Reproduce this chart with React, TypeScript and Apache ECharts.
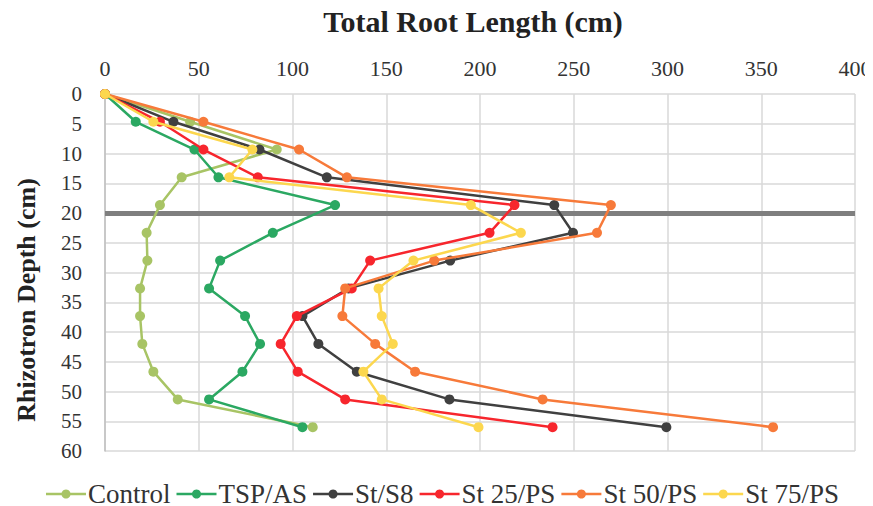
import React, { useEffect, useRef } from "react";
import * as echarts from "echarts";

const depths = [0, 4.67, 9.33, 14, 18.67, 23.33, 28, 32.67, 37.33, 42, 46.67, 51.33, 56];
const seriesNames = ["Control", "TSP/AS", "St/S8", "St 25/PS", "St 50/PS", "St 75/PS"];
const control = [0, 45.4, 91.6, 40.9, 29.3, 22.2, 22.6, 18.7, 18.7, 19.9, 25.8, 38.8, 110.8];
const tspAs = [0, 16.4, 47.7, 60.5, 122.7, 89.5, 61.4, 55.5, 74.7, 82.7, 73.3, 55.5, 105.3];
const stS8 = [0, 36.5, 82.4, 118.3, 239.6, 249.6, 184.1, 129.9, 105.3, 113.8, 134.3, 183.7, 299.4];
const st25 = [0, 29.3, 52.5, 81.5, 218.4, 205.1, 141.4, 131.6, 102.3, 93.7, 102.8, 128.1, 238.7];
const st50 = [0, 52.5, 103.5, 129, 269.8, 262.4, 175.6, 128.1, 126.6, 144.1, 165.4, 233.4, 356.3];
const st75 = [0, 25.8, 78.6, 66.3, 195.1, 221.8, 164.5, 145.9, 147.6, 153.5, 137.8, 147.6, 199.2];
const seriesValues = [control, tspAs, stS8, st25, st50, st75];
const xTicks = [0, 50, 100, 150, 200, 250, 300, 350, 400];
const yTicks = [0, 5, 10, 15, 20, 25, 30, 35, 40, 45, 50, 55, 60];
const colors = ["#a8c465", "#2ba862", "#404040", "#f7262d", "#f77a3a", "#fcd74e"];
const markDepth = 20;

export default function App() {
  const ref = useRef<HTMLDivElement>(null);
  useEffect(() => {
    if (!ref.current) return;
    const chart = echarts.init(ref.current, null, { renderer: "svg" });
    const serif = "Liberation Serif";
    const series: any[] = seriesNames.map((name, i) => ({
      name,
      type: "line",
      data: seriesValues[i].map((v, j) => [v, depths[j]]),
      symbol: "circle",
      symbolSize: 10,
      itemStyle: { color: colors[i] },
      lineStyle: { color: colors[i], width: 2.5 },
      z: 3 + i,
    }));
    series[0].markLine = {
      silent: true,
      symbol: "none",
      label: { show: false },
      lineStyle: { color: "#7f7f7f", width: 5, type: "solid" },
      data: [{ yAxis: markDepth }],
      z: 2,
    };
    chart.setOption({
      animation: false,
      backgroundColor: "#ffffff",
      color: colors,
      grid: { left: 97, right: 18, top: 86, bottom: 55, containLabel: false },
      xAxis: {
        type: "value",
        position: "top",
        min: 0,
        max: 400,
        interval: 50,
        axisLine: { show: false },
        axisTick: { show: false },
        axisLabel: { show: false },
        splitLine: { show: true, lineStyle: { color: "#d9d9d9", width: 1.5 } },
      },
      yAxis: {
        type: "value",
        inverse: true,
        min: 0,
        max: 60,
        interval: 5,
        axisLine: { show: true, lineStyle: { color: "#bfbfbf", width: 1.5 } },
        axisTick: { show: false },
        axisLabel: { show: false },
        splitLine: { show: true, lineStyle: { color: "#d9d9d9", width: 1.5 } },
      },
      legend: { show: false },
      series,
    });

    const ctx = document.createElement("canvas").getContext("2d");
    const measure = (s: string, size: number) => {
      if (!ctx) return s.length * size * 0.5;
      ctx.font = `${size}px "${serif}"`;
      return ctx.measureText(s).width;
    };

    const g: any[] = [
      {
        type: "text",
        x: 465,
        y: 13,
        style: {
          text: "Total Root Length (cm)",
          fontFamily: serif,
          fontWeight: "bold",
          fontSize: 30,
          fill: "#222",
          align: "center",
          verticalAlign: "middle",
        },
      },
      {
        type: "text",
        x: 18,
        y: 292,
        rotation: Math.PI / 2,
        style: {
          text: "Rhizotron Depth (cm)",
          fontFamily: serif,
          fontWeight: "bold",
          fontSize: 26,
          fill: "#222",
          align: "center",
          verticalAlign: "middle",
        },
      },
    ];
    const xSize = 22;
    xTicks.forEach((t) => {
      const px = chart.convertToPixel({ xAxisIndex: 0 }, t) as number;
      const w = measure(String(t), xSize);
      g.push({
        type: "text",
        x: px - w / 2,
        y: 60 - xSize / 2,
        style: { text: String(t), fontFamily: serif, fontSize: xSize, fill: "#333" },
      });
    });
    const ySize = 21;
    yTicks.forEach((t) => {
      const py = chart.convertToPixel({ yAxisIndex: 0 }, t) as number;
      const w = measure(String(t), ySize);
      g.push({
        type: "text",
        x: 74 - w,
        y: py - ySize / 2,
        style: { text: String(t), fontFamily: serif, fontSize: ySize, fill: "#333" },
      });
    });
    const legendFont = 27;
    let lx = 38;
    const ly = 486;
    seriesNames.forEach((name, i) => {
      const w = measure(name, legendFont);
      g.push({
        type: "line",
        shape: { x1: lx, y1: ly, x2: lx + 40, y2: ly },
        style: { stroke: colors[i], lineWidth: 2.5 },
      });
      g.push({ type: "circle", shape: { cx: lx + 20, cy: ly, r: 4.5 }, style: { fill: colors[i] } });
      g.push({
        type: "text",
        x: lx + 42,
        y: ly - legendFont / 2,
        style: { text: name, fontFamily: serif, fontSize: legendFont, fill: "#333" },
      });
      lx += 42 + w + 6;
    });
    chart.setOption({ graphic: g });
    return () => chart.dispose();
  }, []);
  return <div ref={ref} style={{ width: 865, height: 498 }} />;
}
